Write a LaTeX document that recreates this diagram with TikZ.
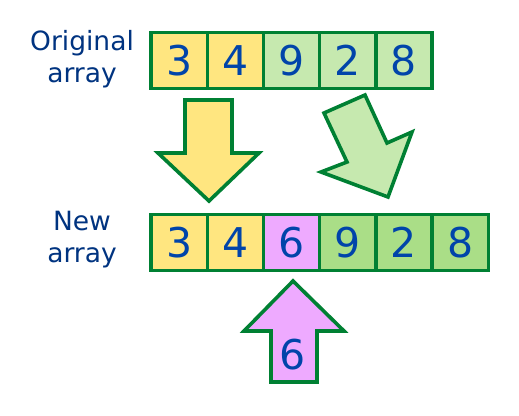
\documentclass[tikz,border=0pt]{standalone}
\usepackage{fontspec}
\setmainfont{DejaVu Sans}
\definecolor{strokeg}{HTML}{008033}
\definecolor{yel}{HTML}{FFE680}
\definecolor{lgreen}{HTML}{C6E9AF}
\definecolor{mgreen}{HTML}{AADE87}
\definecolor{pink}{HTML}{EEAAFF}
\definecolor{digit}{HTML}{0044AA}
\definecolor{lbl}{HTML}{003380}
\tikzset{
  cell/.style={draw=strokeg, line width=3.4pt, minimum width=56.2pt, minimum height=56pt, inner sep=0pt, text=digit, font=\fontsize{41}{41}\selectfont, anchor=center},
  bigarrow/.style={draw=strokeg, line width=3.6pt, line join=miter},
  lab/.style={text=lbl, font=\fontsize{26.5}{32}\selectfont, align=center}
}
\begin{document}
\begin{tikzpicture}[x=1pt,y=-1pt]
\useasboundingbox (0,0) rectangle (519,415);
% top row
\node[cell, fill=yel]    (t1) at (179.1,60.5) {3};
\node[cell, fill=yel]    (t2) at (235.3,60.5) {4};
\node[cell, fill=lgreen] (t3) at (291.5,60.5) {9};
\node[cell, fill=lgreen] (t4) at (347.7,60.5) {2};
\node[cell, fill=lgreen] (t5) at (403.9,60.5) {8};
% bottom row
\node[cell, fill=yel]    (b1) at (179.1,242.5) {3};
\node[cell, fill=yel]    (b2) at (235.3,242.5) {4};
\node[cell, fill=pink]   (b3) at (291.5,242.5) {6};
\node[cell, fill=mgreen] (b4) at (347.7,242.5) {9};
\node[cell, fill=mgreen] (b5) at (403.9,242.5) {2};
\node[cell, fill=mgreen] (b6) at (460.1,242.5) {8};
% labels
\node[lab] (lo) at (82,59) {Original\\array};
\node[lab] (ln) at (82,240) {New\\array};
% yellow down arrow
\draw[bigarrow, fill=yel] (185,100) -- (232,100) -- (232,153) -- (259,153) -- (209,201) -- (158,153) -- (185,153) -- cycle;
% green slanted arrow
\draw[bigarrow, fill=lgreen] (324,113) -- (365,95) -- (387,143) -- (412,132) -- (388,197) -- (321,172) -- (347,162) -- cycle;
% pink up arrow
\draw[bigarrow, fill=pink] (271,382) -- (271,331) -- (244,331) -- (293,281) -- (344,331) -- (317,331) -- (317,382) -- cycle;
\node[text=digit, font=\fontsize{41}{41}\selectfont] (six) at (293,355) {6};
\end{tikzpicture}
\end{document}
